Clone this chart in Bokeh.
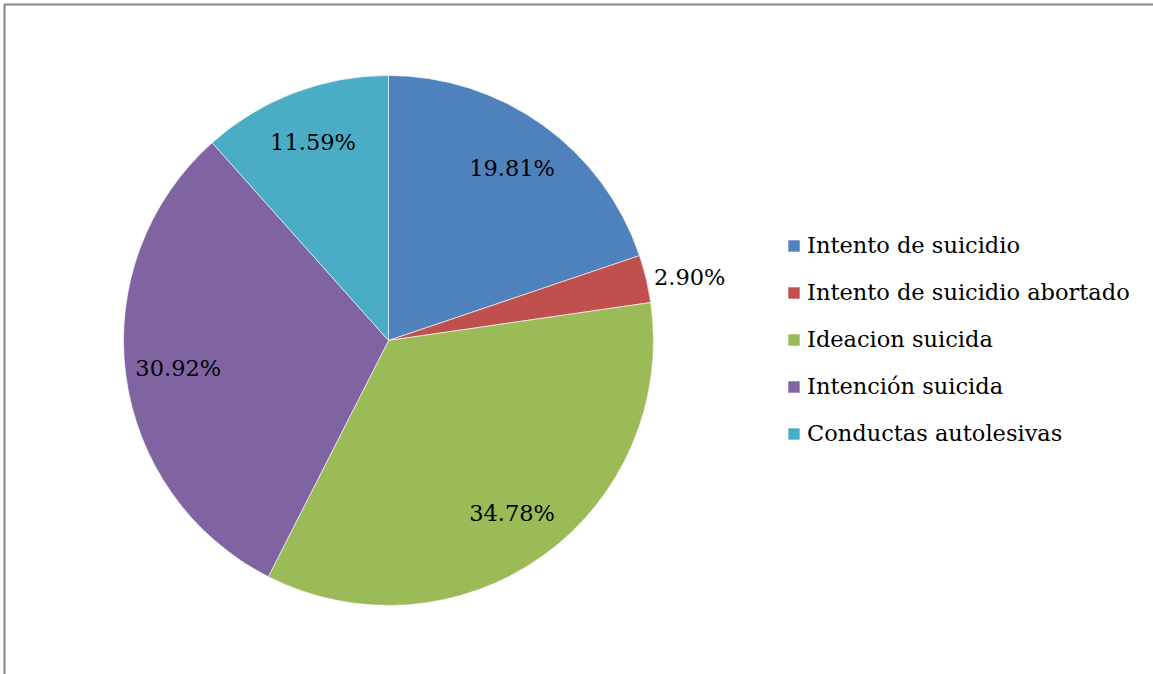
import numpy as np
from bokeh.plotting import figure
from bokeh.models import Range1d, Legend, LegendItem, BoxAnnotation
from bokeh.core.properties import value
from bokeh.embed import file_html
from bokeh.resources import INLINE

categories = ["Intento de suicidio", "Intento de suicidio abortado", "Ideacion suicida",
              "Intención suicida", "Conductas autolesivas"]
shares = [19.81, 2.90, 34.78, 30.92, 11.59]
labels = ["19.81%", "2.90%", "34.78%", "30.92%", "11.59%"]
colors = ["#4F81BD", "#C0504D", "#9BBB59", "#8064A2", "#4BACC6"]

W, H = 1153, 674
cx, cy, R = 388, H - 340, 265
FONT = "DejaVu Serif"

p = figure(width=W, height=H, output_backend="svg", toolbar_location=None,
           x_range=Range1d(0, W), y_range=Range1d(0, H),
           min_border=0, outline_line_color=None)
p.axis.visible = False
p.grid.visible = False

vals = np.array(shares)
cum = np.concatenate([[0], np.cumsum(vals)]) / vals.sum() * 2 * np.pi
start = np.pi / 2 - cum[:-1]
end = np.pi / 2 - cum[1:]

renderers = []
for i in range(len(shares)):
    r = p.wedge(x=cx, y=cy, radius=R, start_angle=start[i], end_angle=end[i],
                direction="clock", fill_color=colors[i], line_color="white", line_width=0.6)
    renderers.append(r)

mid = (start + end) / 2
inside = vals >= 5
rf = np.where(inside, 0.80, 1.03)
lx = cx + R * rf * np.cos(mid)
ly = cy + R * rf * np.sin(mid)
align = np.where(inside, "center", "left")
p.text(x=lx, y=ly, text=labels, text_align=align.tolist(), text_baseline="middle",
       text_font=value(FONT), text_font_size="22.5px", text_color="black")

legend = Legend(items=[LegendItem(label=c, renderers=[r]) for c, r in zip(categories, renderers)],
                location=(786, H - 446), orientation="vertical",
                glyph_width=15, glyph_height=15, label_text_font=FONT,
                label_text_font_size="22.5px", label_text_color="black",
                label_standoff=6, spacing=21,
                label_height=26, padding=0, margin=0, border_line_color=None,
                background_fill_alpha=0)
p.add_layout(legend, "center")

p.add_layout(BoxAnnotation(left=4, right=W + 20, bottom=-20, top=H - 4,
                           fill_alpha=0, line_color="#858585", line_alpha=1.0, line_width=2))

open("out.html", "w").write(file_html(p, INLINE))
